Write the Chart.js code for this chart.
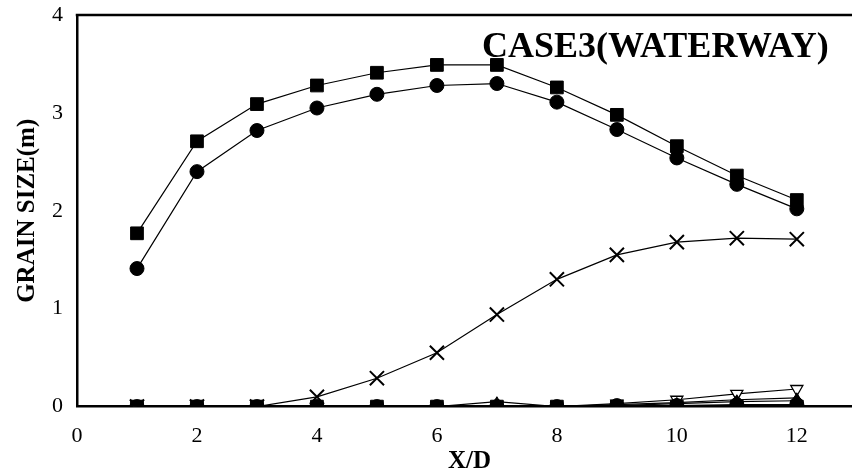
<!DOCTYPE html>
<html>
<head>
<meta charset="utf-8">
<script src="https://cdn.jsdelivr.net/npm/chart.js@4.4.0/dist/chart.umd.min.js"></script>
<style>
    body { margin: 0; background: #fff; }
    #wrap { position: relative; width: 852px; height: 473px; }
    .lbl { position: absolute; font-family: "Liberation Serif", serif; font-weight: bold; color: #000; white-space: nowrap; }
    #caseTitle { left: 482px; top: 24px; font-size: 36px; }
    #xTitle { left: 448px; top: 446px; font-size: 25px; }
</style>
</head>
<body>
<div id="wrap">
    <canvas id="grainChart" width="852" height="473"></canvas>
    <div class="lbl" id="caseTitle">CASE3(WATERWAY)</div>
    <div class="lbl" id="xTitle">X/D</div>
</div>
<script>
// Distance downstream (X/D) and grain size per size class
const xd = [1, 2, 3, 4, 5, 6, 7, 8, 9, 10, 11, 12];
const sizeSquare   = [1.77, 2.71, 3.09, 3.28, 3.41, 3.49, 3.49, 3.26, 2.98, 2.66, 2.36, 2.11];
const sizeCircle   = [1.41, 2.40, 2.82, 3.05, 3.19, 3.28, 3.30, 3.11, 2.83, 2.54, 2.27, 2.02];
const sizeCross    = [0, 0, 0, 0.10, 0.29, 0.55, 0.94, 1.30, 1.55, 1.68, 1.72, 1.71];
const sizeTriDown  = [0, 0, 0, 0, 0, 0, 0.01, 0, 0.03, 0.07, 0.13, 0.18];
const sizeTriUp    = [0, 0, 0, 0, 0, 0, 0.05, 0, 0.02, 0.04, 0.07, 0.09];
const sizeDiamond  = [0, 0, 0, 0, 0, 0, 0, 0, 0.01, 0.03, 0.05, 0.06];
const sizeSqZero   = [0, 0, 0, 0, 0, 0, 0, 0, 0, 0, 0, 0];
const sizeDotZero  = [0, 0, 0, 0, 0, 0, 0, 0, 0.01, 0.01, 0.02, 0.02];

const yTicks = [0, 1, 2, 3, 4];
const xTicks = [0, 2, 4, 6, 8, 10, 12];

const pts = arr => xd.map((x, i) => ({ x: x, y: arr[i] }));

function series(arr, style, radius, extra) {
    return Object.assign({
        data: pts(arr),
        borderColor: '#000',
        borderWidth: 1.2,
        pointStyle: style,
        pointRadius: radius,
        pointHoverRadius: radius,
        pointBackgroundColor: '#000',
        pointBorderColor: '#000',
        pointBorderWidth: 1,
        tension: 0,
        fill: false
    }, extra || {});
}

const serif = '"Liberation Serif", "Times New Roman", serif';

// top frame line across the plot area
const topFrame = {
    id: 'topFrame',
    afterDraw(chart) {
        const { ctx, chartArea } = chart;
        ctx.save();
        ctx.strokeStyle = '#000';
        ctx.lineWidth = 2.5;
        ctx.beginPath();
        ctx.moveTo(chartArea.left - 1.25, chartArea.top);
        ctx.lineTo(chartArea.right, chartArea.top);
        ctx.stroke();
        ctx.restore();
    }
};

// let the tick labels hang over the edges instead of shrinking the plot
const noEdgePad = s => { s.paddingTop = 0; s.paddingBottom = 0; s.paddingLeft = 0; s.paddingRight = 0; };

new Chart(document.getElementById('grainChart'), {
    type: 'line',
    data: {
        // first dataset is painted last (on top)
        datasets: [
            series(sizeSqZero, 'rect', 9),
            series(sizeDotZero, 'circle', 7),
            series(sizeSquare, 'rect', 9),
            series(sizeCircle, 'circle', 7),
            series(sizeCross, 'crossRot', 10, { pointBorderWidth: 2 }),
            series(sizeTriUp, 'triangle', 5),
            series(sizeDiamond, 'rectRot', 6),
            series(sizeTriDown, 'triangle', 7, { pointRotation: 180, pointBackgroundColor: '#fff', pointBorderWidth: 1.3 })
        ]
    },
    options: {
        responsive: false,
        animation: false,
        layout: { autoPadding: false, padding: { top: 15, right: 0, left: 13, bottom: 8 } },
        plugins: {
            legend: { display: false },
            tooltip: { enabled: false }
        },
        scales: {
            x: {
                type: 'linear',
                min: 0,
                max: 12.92,
                afterBuildTicks: s => { s.ticks = xTicks.map(v => ({ value: v })); },
                afterFit: noEdgePad,
                ticks: { color: '#000', font: { family: serif, size: 22 }, padding: 16, maxRotation: 0 },
                grid: { display: false, drawTicks: false },
                border: { color: '#000', width: 2.5 }
            },
            y: {
                min: 0,
                max: 4,
                afterBuildTicks: s => { s.ticks = yTicks.map(v => ({ value: v })); },
                afterFit: noEdgePad,
                ticks: { color: '#000', font: { family: serif, size: 22 }, padding: 14 },
                grid: { display: false, drawTicks: false },
                border: { color: '#000', width: 2.5 },
                title: {
                    display: true,
                    text: 'GRAIN SIZE(m)',
                    color: '#000',
                    font: { family: serif, size: 25, weight: 'bold' },
                    padding: { top: 0, bottom: -5 }
                }
            }
        }
    },
    plugins: [topFrame]
});
</script>
</body>
</html>
